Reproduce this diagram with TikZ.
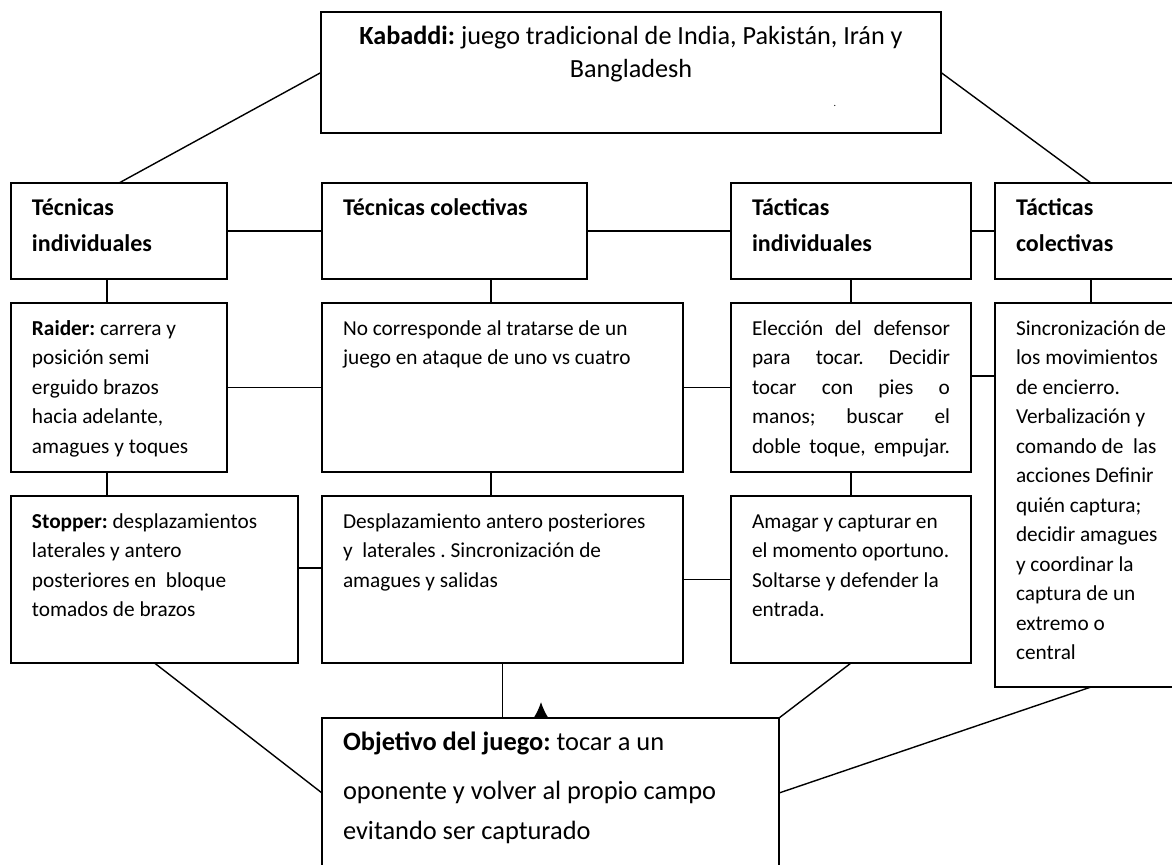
\documentclass[tikz,border=0pt]{standalone}
\usepackage{fontspec}
\setmainfont{Carlito}
\usetikzlibrary{arrows.meta}
\frenchspacing

% fixed size text block, top aligned
\newcommand{\cajatexto}[3]{\begin{minipage}[t][#2][t]{#1}\rule{0pt}{10.4pt}#3\end{minipage}}

\begin{document}
\begin{tikzpicture}[x=0.5pt,y=-0.5pt,line width=0.7pt]

  \tikzstyle{caja}=[draw,line width=1pt,anchor=north west,outer sep=0pt,
                    inner xsep=10.5pt,inner ysep=5.6pt,
                    font=\fontsize{10.65pt}{14.75pt}\selectfont]
  \tikzstyle{titulo}=[caja,font=\fontsize{12pt}{16.5pt}\selectfont\bfseries]

  \useasboundingbox (0,0) rectangle (1172,864);

  \node[caja,font=\fontsize{13.1pt}{16.5pt}\selectfont] (kabaddi) at (321,12)
    {\cajatexto{289pt}{49.3pt}{\centering\textbf{Kabaddi:} juego tradicional de India, Pakistán, Irán y\\ Bangladesh}};
  \node[inner sep=0pt,font=\tiny] (punto) at (835,106) {.};

  \node[titulo] (tecind) at (11,183)  {\cajatexto{87pt}{36.8pt}{\vspace*{1.5pt}Técnicas\\ individuales}};
  \node[titulo] (teccol) at (322,183) {\cajatexto{111.5pt}{36.8pt}{\vspace*{1.5pt}Técnicas colectivas}};
  \node[titulo] (tacind) at (731,183) {\cajatexto{99pt}{36.8pt}{\vspace*{1.5pt}Tácticas\\ individuales}};
  \node[titulo] (taccol) at (995,183) {\cajatexto{75pt}{36.8pt}{\vspace*{1.5pt}Tácticas\\ colectivas}};

  \node[caja] (raider)   at (11,303)  {\cajatexto{87pt}{73.3pt}{\textbf{Raider:} carrera y\\ posición semi\\ erguido brazos\\ hacia adelante,\\ amagues y toques}};
  \node[caja] (nocorr)   at (322,303) {\cajatexto{159.5pt}{73.3pt}{No corresponde al tratarse de un\\ juego en ataque de uno vs cuatro}};
  \node[caja] (eleccion) at (731,303) {\cajatexto{99pt}{73.3pt}{%
      \makebox[\linewidth][s]{Elección del defensor}\\
      \makebox[\linewidth][s]{para tocar. Decidir}\\
      \makebox[\linewidth][s]{tocar con pies o}\\
      \makebox[\linewidth][s]{manos; buscar el}\\
      \makebox[\linewidth][s]{doble toque, empujar.}}};
  \node[caja] (sincro)   at (995,303) {\cajatexto{75pt}{180.8pt}{Sincronización de\\ los movimientos\\ de encierro.\\ Verbalización y\\ comando de\ \ las\\ acciones Definir\\ quién captura;\\ decidir amagues\\ y coordinar la\\ captura de un\\ extremo o\\ central}};

  \node[caja] (stopper)  at (11,496)  {\cajatexto{122.5pt}{72.3pt}{\textbf{Stopper:} desplazamientos\\ laterales y antero\\ posteriores en\ \ bloque\\ tomados de brazos}};
  \node[caja] (desplaz)  at (322,496) {\cajatexto{159.5pt}{72.3pt}{Desplazamiento antero posteriores\\ y\ \ laterales . Sincronización de\\ amagues y salidas}};
  \node[caja] (amagar)   at (731,496) {\cajatexto{99pt}{72.3pt}{Amagar y capturar en\\ el momento oportuno.\\ Soltarse y defender la\\ entrada.}};

  \node[caja,font=\fontsize{13.2pt}{20pt}\selectfont] (objetivo) at (322,718)
    {\cajatexto{207.5pt}{63.8pt}{\vspace*{4.5pt}\textbf{Objetivo del juego:} tocar a un\\ oponente y volver al propio campo\\ evitando ser capturado}};

  \coordinate (flecha) at (541,702);

  % ramas superiores
  \draw (kabaddi.west) -- (tecind.north);
  \draw (kabaddi.east) -- (taccol.north);

  % fila de titulos
  \draw (tecind.east) -- (teccol.west);
  \draw (teccol.east) -- (tacind.west);
  \draw (tacind.east) -- (taccol.west);

  % columnas
  \draw ([xshift=-6pt]tecind.south) -- ([xshift=-6pt]tecind.south |- raider.north);
  \draw ([xshift=-6pt]raider.south) -- ([xshift=-6pt]raider.south |- stopper.north);
  \draw ([xshift=-5.75pt]nocorr.north) -- ([xshift=-5.75pt]nocorr.north |- teccol.south);
  \draw ([xshift=-5.75pt]desplaz.north) -- ([xshift=-5.75pt]desplaz.north |- nocorr.south);
  \draw (tacind.south) -- (eleccion.north);
  \draw (eleccion.south) -- (amagar.north);
  \draw (taccol.south) -- (sincro.north);

  % enlaces horizontales
  \draw (raider.east) -- (nocorr.west);
  \draw (nocorr.east) -- (eleccion.west);
  \draw ([yshift=5.75pt]eleccion.east) -- ([yshift=5.75pt]eleccion.east -| sincro.west);
  \draw ([yshift=5.75pt]stopper.east) -- ([yshift=5.75pt]stopper.east -| desplaz.west);
  \draw (desplaz.east) -- (amagar.west);

  % hacia el objetivo
  \draw (stopper.south) -- (objetivo.west);
  \draw (desplaz.south) -- (desplaz.south |- objetivo.north);
  \draw (amagar.south) -- (objetivo.north east);
  \draw (sincro.south) -- (objetivo.east);
  \draw[-{Latex[length=8pt,width=7.5pt]}] (flecha |- objetivo.north) -- (flecha);

\end{tikzpicture}
\end{document}
